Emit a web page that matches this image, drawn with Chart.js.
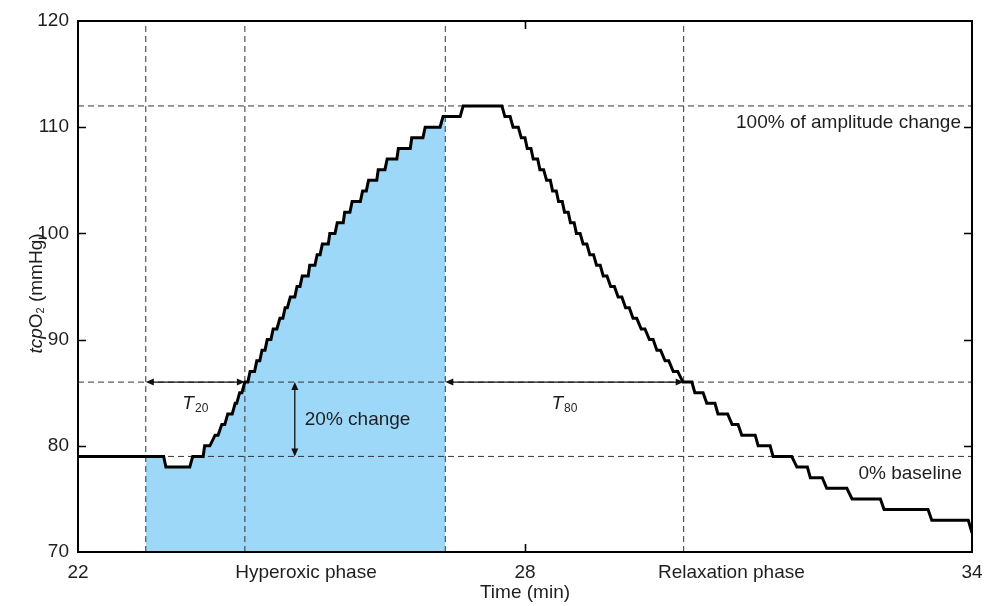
<!DOCTYPE html>
<html>
<head>
<meta charset="utf-8">
<script src="https://cdn.jsdelivr.net/npm/chart.js@4.4.1/dist/chart.umd.min.js"></script>
<style>
  html, body { margin: 0; padding: 0; background: #ffffff; }
  #wrap { width: 984px; height: 606px; position: relative; }
</style>
</head>
<body>
<div id="wrap"><canvas id="c" width="984" height="606"></canvas></div>
<script>
// ---- Data ----
// tcpO2 plateau levels (mmHg) with the time (min) each plateau starts and ends
const stepLevel = [79, 78, 79, 80, 81, 82, 83, 84, 85, 86, 87, 88, 89, 90, 91, 92, 93, 94, 95, 96, 97, 98, 99, 100,
  101, 102, 103, 104, 105, 106, 107, 108, 109, 110, 111, 112,
  111, 110, 109, 108, 107, 106, 105, 104, 103, 102, 101, 100, 99, 98, 97, 96, 95, 94, 93, 92, 91, 90, 89, 88, 87, 86,
  85, 84, 83, 82, 81, 80, 79, 78, 77, 76, 75, 74, 73];
const stepStart = [22.00, 23.18, 23.54, 23.70, 23.84, 23.93, 24.01, 24.11, 24.17, 24.24, 24.31, 24.40, 24.47, 24.54, 24.62,
  24.71, 24.78, 24.85, 24.94, 25.01, 25.11, 25.21, 25.28, 25.38, 25.48, 25.58, 25.68, 25.82, 25.90, 26.03, 26.15, 26.30,
  26.48, 26.66, 26.90, 27.17,
  27.73, 27.84, 27.95, 28.03, 28.11, 28.20, 28.29, 28.37, 28.45, 28.53, 28.61, 28.69, 28.78, 28.87, 28.96, 29.05, 29.15,
  29.25, 29.35, 29.45, 29.56, 29.67, 29.77, 29.88, 29.99, 30.12,
  30.28, 30.44, 30.59, 30.78, 30.91, 31.13, 31.33, 31.65, 31.83, 32.05, 32.39, 32.82, 33.46];
const stepEnd = [23.15, 23.50, 23.68, 23.77, 23.88, 23.97, 24.07, 24.13, 24.20, 24.28, 24.37, 24.44, 24.51, 24.59, 24.67,
  24.75, 24.81, 24.91, 24.98, 25.09, 25.18, 25.25, 25.36, 25.45, 25.56, 25.65, 25.79, 25.87, 26.01, 26.12, 26.28, 26.46,
  26.63, 26.86, 27.13, 27.69,
  27.80, 27.91, 28.00, 28.08, 28.17, 28.25, 28.34, 28.42, 28.50, 28.58, 28.66, 28.74, 28.83, 28.92, 29.01, 29.10, 29.20,
  29.30, 29.40, 29.50, 29.61, 29.72, 29.82, 29.93, 30.05, 30.24,
  30.39, 30.55, 30.72, 30.86, 31.09, 31.29, 31.58, 31.79, 31.99, 32.32, 32.77, 33.41, 33.95];
const lastTime = 34.00;
const lastLevel = 71.8;

// reference levels (mmHg): 100% amplitude, 20% change, 0% baseline
const levelLines = [112, 86, 79];
// vertical marker times (min): phase start, T20 point, phase end, T80 point
const markerTimes = [22.91, 24.24, 26.93, 30.13];
// shaded hyperoxic area (min)
const fillRange = [22.91, 26.93];
// 20% change arrow time (min)
const changeArrowTime = 24.91;

// axis ticks
const xTickValues = [22, 25.06, 28, 30.77, 34];
const xTickLabels = ['22', 'Hyperoxic phase', '28', 'Relaxation phase', '34'];
const yTickValues = [70, 80, 90, 100, 110, 120];
const xInnerTicks = [28];
const yInnerTicks = [80, 90, 100, 110];

// ---- Build datasets ----
const FONT = "'Liberation Sans', Arial, Helvetica, sans-serif";
const TEXT = '#1e1e1e';

const curve = [];
stepLevel.forEach((lv, i) => {
  curve.push({ x: stepStart[i], y: lv });
  curve.push({ x: stepEnd[i], y: lv });
});
curve.push({ x: lastTime, y: lastLevel });

function curveAt(t) {
  for (let i = 0; i < curve.length - 1; i++) {
    const a = curve[i], b = curve[i + 1];
    if (t >= a.x && t <= b.x) {
      if (b.x === a.x) return a.y;
      return a.y + (b.y - a.y) * (t - a.x) / (b.x - a.x);
    }
  }
  return curve[curve.length - 1].y;
}

const fillData = [{ x: fillRange[0], y: curveAt(fillRange[0]) }]
  .concat(curve.filter(p => p.x > fillRange[0] && p.x < fillRange[1]))
  .concat([{ x: fillRange[1], y: curveAt(fillRange[1]) }]);

const dashStyle = { borderColor: '#333333', borderWidth: 1, borderDash: [6, 4], pointRadius: 0, fill: false, order: 1 };
const dashedSets = [];
levelLines.forEach(v => dashedSets.push(Object.assign({ data: [{ x: 22, y: v }, { x: 34, y: v }] }, dashStyle)));
markerTimes.forEach(t => dashedSets.push(Object.assign({ data: [{ x: t, y: 70 }, { x: t, y: 120 }] }, dashStyle)));

// ---- Annotation plugin ----
function arrowHead(ctx, tx, ty, dx, dy) {
  const len = 8, half = 3.5;
  const bx = tx - dx * len, by = ty - dy * len;
  ctx.beginPath();
  ctx.moveTo(tx, ty);
  ctx.lineTo(bx - dy * half, by + dx * half);
  ctx.lineTo(bx + dy * half, by - dx * half);
  ctx.closePath();
  ctx.fill();
}
function doubleArrow(ctx, x1, y1, x2, y2) {
  const d = Math.hypot(x2 - x1, y2 - y1);
  const dx = (x2 - x1) / d, dy = (y2 - y1) / d;
  ctx.beginPath();
  ctx.moveTo(x1 + dx * 4, y1 + dy * 4);
  ctx.lineTo(x2 - dx * 4, y2 - dy * 4);
  ctx.stroke();
  arrowHead(ctx, x2, y2, dx, dy);
  arrowHead(ctx, x1, y1, -dx, -dy);
}
function subLabel(ctx, cx, cy, main, sub) {
  ctx.font = 'italic 19px ' + FONT;
  const w1 = ctx.measureText(main).width;
  ctx.font = '12px ' + FONT;
  const w2 = ctx.measureText(sub).width;
  const x0 = cx - (w1 + w2 + 1) / 2;
  ctx.textAlign = 'left';
  ctx.textBaseline = 'alphabetic';
  ctx.font = 'italic 19px ' + FONT;
  ctx.fillText(main, x0, cy + 7);
  ctx.font = '12px ' + FONT;
  ctx.fillText(sub, x0 + w1 + 1, cy + 10);
}

const annotate = {
  id: 'annotate',
  afterDatasetsDraw(chart) {
    const { ctx, chartArea: a, scales: { x, y } } = chart;
    ctx.save();
    ctx.fillStyle = '#111';
    ctx.strokeStyle = '#111';

    // frame
    ctx.lineWidth = 2;
    ctx.strokeStyle = '#000';
    ctx.strokeRect(a.left, a.top, a.right - a.left, a.bottom - a.top);

    // inward tick marks
    ctx.lineWidth = 1.6;
    ctx.beginPath();
    yInnerTicks.forEach(v => {
      const py = Math.round(y.getPixelForValue(v)) + 0.5;
      ctx.moveTo(a.left, py); ctx.lineTo(a.left + 8, py);
      ctx.moveTo(a.right, py); ctx.lineTo(a.right - 8, py);
    });
    xInnerTicks.forEach(v => {
      const px = Math.round(x.getPixelForValue(v)) + 0.5;
      ctx.moveTo(px, a.bottom); ctx.lineTo(px, a.bottom - 8);
      ctx.moveTo(px, a.top); ctx.lineTo(px, a.top + 8);
    });
    ctx.stroke();

    // arrows
    ctx.lineWidth = 1.3;
    ctx.strokeStyle = '#111';
    const y20 = y.getPixelForValue(levelLines[1]);
    const y0 = y.getPixelForValue(levelLines[2]);
    const xA = x.getPixelForValue(markerTimes[0]);
    const xB = x.getPixelForValue(markerTimes[1]);
    const xC = x.getPixelForValue(markerTimes[2]);
    const xD = x.getPixelForValue(markerTimes[3]);
    doubleArrow(ctx, xA, y20, xB, y20);
    doubleArrow(ctx, xC, y20, xD, y20);
    const xv = x.getPixelForValue(changeArrowTime);
    doubleArrow(ctx, xv, y20, xv, y0);

    // texts
    ctx.fillStyle = TEXT;
    subLabel(ctx, (xA + xB) / 2, y20 + 20, 'T', '20');
    subLabel(ctx, (xC + xD) / 2, y20 + 20, 'T', '80');

    ctx.font = '19px ' + FONT;
    ctx.textAlign = 'left';
    ctx.textBaseline = 'middle';
    ctx.fillText('20% change', xv + 10, (y20 + y0) / 2 + 1);

    ctx.textAlign = 'right';
    ctx.fillText('100% of amplitude change', a.right - 11, y.getPixelForValue(levelLines[0]) + 17);
    ctx.fillText('0% baseline', a.right - 10, y0 + 17);

    // y-axis title: tcpO2 (mmHg)
    ctx.translate(37, (a.top + a.bottom) / 2 + 7);
    ctx.rotate(-Math.PI / 2);
    const parts = [
      { t: 'tcp', f: 'italic 19px ' + FONT, dy: 0 },
      { t: 'O', f: '19px ' + FONT, dy: 0 },
      { t: '2', f: '11px ' + FONT, dy: 4 },
      { t: ' (mmHg)', f: '19px ' + FONT, dy: 0 }
    ];
    let total = 0;
    parts.forEach(p => { ctx.font = p.f; p.w = ctx.measureText(p.t).width; total += p.w; });
    let cx = -total / 2;
    ctx.textAlign = 'left';
    ctx.textBaseline = 'middle';
    parts.forEach(p => { ctx.font = p.f; ctx.fillText(p.t, cx, p.dy); cx += p.w; });
    ctx.restore();
  }
};

new Chart(document.getElementById('c'), {
  type: 'line',
  data: {
    datasets: [
      { data: curve, borderColor: '#000', borderWidth: 3, pointRadius: 0, fill: false, tension: 0, order: 0 },
      ...dashedSets,
      { data: fillData, borderWidth: 0, borderColor: 'rgba(0,0,0,0)', backgroundColor: '#9dd8f9', pointRadius: 0, fill: 'start', tension: 0, order: 2 }
    ]
  },
  options: {
    responsive: false,
    animation: false,
    devicePixelRatio: 1,
    layout: { padding: { top: 21, right: 12, left: 0, bottom: 0 } },
    plugins: { legend: { display: false }, tooltip: { enabled: false } },
    scales: {
      x: {
        type: 'linear', min: 22, max: 34,
        grid: { display: false, drawTicks: false },
        border: { display: false },
        afterBuildTicks: s => { s.ticks = xTickValues.map(v => ({ value: v })); },
        ticks: {
          autoSkip: false, maxRotation: 0, minRotation: 0, padding: 9, color: TEXT,
          font: { size: 19, family: FONT },
          callback: (v, i) => xTickLabels[i]
        },
        title: { display: true, text: 'Time (min)', color: TEXT, font: { size: 19, family: FONT }, padding: { top: 0, bottom: 2 } },
        afterFit: s => { s.height = 54; s.paddingLeft = 0; s.paddingRight = 0; }
      },
      y: {
        type: 'linear', min: 70, max: 120,
        grid: { display: false, drawTicks: false },
        border: { display: false },
        afterBuildTicks: s => { s.ticks = yTickValues.map(v => ({ value: v })); },
        ticks: { padding: 9, color: TEXT, font: { size: 19, family: FONT } },
        afterFit: s => { s.width = 78; }
      }
    }
  },
  plugins: [annotate]
});
</script>
</body>
</html>
